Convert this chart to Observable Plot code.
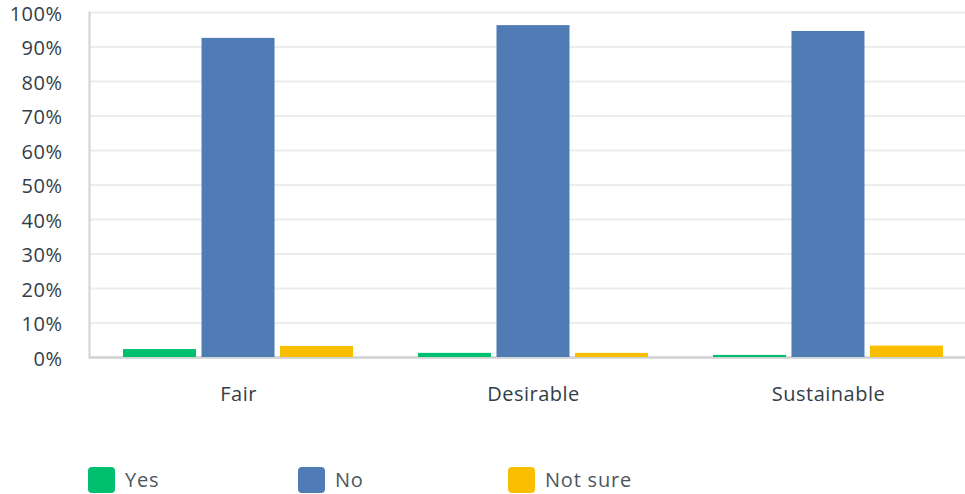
<!DOCTYPE html>
<html>
<head>
<meta charset="utf-8">
<script src="https://cdn.jsdelivr.net/npm/d3@7"></script>
<script src="https://cdn.jsdelivr.net/npm/@observablehq/plot@0.6"></script>
<style>
  html, body { margin: 0; padding: 0; background: #fff; overflow: hidden; }
  #wrap { position: relative; width: 965px; height: 430px; }
  #wrap svg { position: absolute; left: 0; top: 0; }
  #legend { display: flex; padding-left: 88px; padding-top: 36px; font-family: "Open Sans", sans-serif; font-size: 20px; letter-spacing: 0.8px; color: #4b5660; }
  .item { display: flex; align-items: center; width: 210px; }
  .sw { width: 27px; height: 26px; border-radius: 4px; margin-right: 10px; }
</style>
</head>
<body>
<div id="wrap"></div>
<div id="legend"></div>
<script>
const categories = ["Fair", "Desirable", "Sustainable"];
const answers = ["Yes", "No", "Not sure"];
const yesValues = [2.3, 1.2, 0.6];
const noValues = [92.5, 96.2, 94.5];
const notSureValues = [3.2, 1.2, 3.3];
const colors = ["#00BF6F", "#507CB6", "#F9BE00"];
const yTicks = [0, 10, 20, 30, 40, 50, 60, 70, 80, 90, 100];

const series = [yesValues, noValues, notSureValues];
const rows = [];
categories.forEach((c, i) => answers.forEach((a, j) => rows.push({category: c, answer: a, value: series[j][i]})));

const W = 965, H = 430;
const margins = {marginLeft: 89, marginRight: 0, marginTop: 12, marginBottom: 73};
const band = {domain: categories, paddingInner: 0.2203, paddingOuter: 0.095, align: 0.607, round: false};
const font = {fontFamily: "Open Sans, sans-serif", fontSize: "20px", letterSpacing: "0.5px", color: "#333e48"};

const back = Plot.plot({
  width: W, height: H, ...margins,
  style: {...font, background: "white"},
  y: {domain: [0, 100]},
  marks: [
    Plot.ruleY(yTicks, {stroke: "#ededed", strokeWidth: 2}),
    Plot.ruleY([0], {stroke: "#d0d2d3", strokeWidth: 2.5}),
    Plot.frame({anchor: "left", stroke: "#d0d2d3", strokeWidth: 2}),
    Plot.axisY({ticks: yTicks, tickSize: 0, tickPadding: 27, tickFormat: d => `${d}%`, label: null, fill: "#333e48", dy: 2})
  ]
});

const front = Plot.plot({
  width: W, height: H, ...margins,
  style: {...font, background: "transparent"},
  fx: band,
  x: {domain: answers, paddingInner: 0.07, paddingOuter: 0, round: false, axis: null},
  y: {domain: [0, 100], axis: null},
  color: {domain: answers, range: colors},
  marks: [
    Plot.barY(rows, {fx: "category", x: "answer", y: "value", fill: "answer"}),
    Plot.axisFx({anchor: "bottom", tickSize: 0, tickPadding: 29, label: null, fill: "#333e48", letterSpacing: "1px"})
  ]
});

const wrap = document.getElementById("wrap");
wrap.appendChild(back);
wrap.appendChild(front);

const legend = document.getElementById("legend");
answers.forEach((a, i) => {
  const item = document.createElement("div");
  item.className = "item";
  const sw = document.createElement("span");
  sw.className = "sw";
  sw.style.background = colors[i];
  const t = document.createElement("span");
  t.textContent = a;
  item.appendChild(sw);
  item.appendChild(t);
  legend.appendChild(item);
});
</script>
</body>
</html>
